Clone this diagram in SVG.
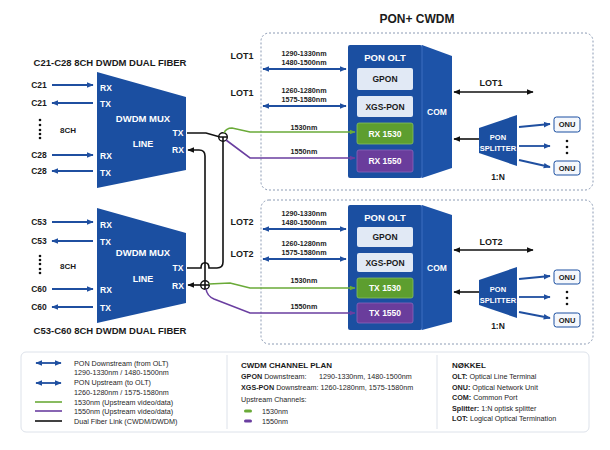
<svg xmlns="http://www.w3.org/2000/svg" width="610" height="450" viewBox="0 0 610 450">
<style>
text{font-family:"Liberation Sans",Arial,sans-serif;dominant-baseline:central}
.b{font-weight:bold}
.w{fill:#fff;font-weight:bold}
.k{fill:#1a1a1a}
.m{text-anchor:middle}
.blue{fill:#1b4fa1}
.lg{font-size:7.2px;fill:#1e1e1e}
.nm{font-size:7.2px;font-weight:bold;fill:#222;text-anchor:middle}
.lnk{fill:none;stroke:#111;stroke-width:1.6}
.ba{fill:none;stroke:#1f4fa0;stroke-width:1.8}
.gr{fill:none;stroke:#6aaa38;stroke-width:1.6}
.pu{fill:none;stroke:#6a3ea0;stroke-width:1.6}
.dash{fill:none;stroke:#8c9bb4;stroke-width:1;stroke-dasharray:2 2}
</style>
<defs>
<marker id="ab" viewBox="0 0 10 10" refX="9" refY="5" markerWidth="7" markerHeight="7" markerUnits="userSpaceOnUse" orient="auto-start-reverse"><path d="M0,1 L10,5 L0,9 z" fill="#1f4fa0"/></marker>
<marker id="ak" viewBox="0 0 10 10" refX="9" refY="5" markerWidth="7" markerHeight="7" markerUnits="userSpaceOnUse" orient="auto-start-reverse"><path d="M0,1 L10,5 L0,9 z" fill="#111"/></marker>
<marker id="ag" viewBox="0 0 10 10" refX="9" refY="5" markerWidth="6" markerHeight="6" markerUnits="userSpaceOnUse" orient="auto"><path d="M0,1 L10,5 L0,9 z" fill="#6aaa38"/></marker>
<marker id="ap" viewBox="0 0 10 10" refX="9" refY="5" markerWidth="6" markerHeight="6" markerUnits="userSpaceOnUse" orient="auto"><path d="M0,1 L10,5 L0,9 z" fill="#6a3ea0"/></marker>
</defs>
<rect width="610" height="450" fill="#fff"/>

<text x="417" y="19" class="b m k" font-size="12">PON+ CWDM</text>
<text x="110" y="62" class="b m k" font-size="9.5">C21-C28 8CH DWDM DUAL FIBER</text>
<text x="110" y="330" class="b m k" font-size="9.5">C53-C60 8CH DWDM DUAL FIBER</text>

<rect x="261" y="33" width="332" height="157" rx="8" class="dash"/>
<rect x="261" y="200" width="332" height="144" rx="8" class="dash"/>

<g id="mux1">
<polygon points="97,72 186,97 186,170 97,188" class="blue"/>
<text x="100" y="88" class="w" font-size="8.5">RX</text>
<text x="100" y="104" class="w" font-size="8.5">TX</text>
<text x="143" y="118" class="w m" font-size="9.5">DWDM MUX</text>
<text x="143" y="144" class="w m" font-size="9">LINE</text>
<text x="178" y="133" class="w m" font-size="8.5">TX</text>
<text x="178" y="150" class="w m" font-size="8.5">RX</text>
<text x="100" y="156" class="w" font-size="8.5">RX</text>
<text x="100" y="173" class="w" font-size="8.5">TX</text>
</g>
<g id="ch1">
<text x="39" y="85" class="b m k" font-size="8.5">C21</text>
<text x="39" y="103" class="b m k" font-size="8.5">C21</text>
<text x="39" y="155" class="b m k" font-size="8.5">C28</text>
<text x="39" y="171" class="b m k" font-size="8.5">C28</text>
<text x="60" y="130" class="b k" font-size="8">8CH</text>
<g fill="#111"><circle cx="40" cy="120" r="1.3"/><circle cx="40" cy="125" r="1.3"/><circle cx="40" cy="130" r="1.3"/><circle cx="40" cy="134" r="1.3"/><circle cx="40" cy="138" r="1.3"/></g>
</g>

<g id="mux2">
<polygon points="97,208 186,233 186,303 97,323" class="blue"/>
<text x="100" y="225" class="w" font-size="8.5">RX</text>
<text x="100" y="242" class="w" font-size="8.5">TX</text>
<text x="143" y="252" class="w m" font-size="9.5">DWDM MUX</text>
<text x="143" y="279" class="w m" font-size="9">LINE</text>
<text x="178" y="268" class="w m" font-size="8.5">TX</text>
<text x="178" y="286" class="w m" font-size="8.5">RX</text>
<text x="100" y="290" class="w" font-size="8.5">RX</text>
<text x="100" y="308" class="w" font-size="8.5">TX</text>
</g>
<g id="ch2">
<text x="39" y="222" class="b m k" font-size="8.5">C53</text>
<text x="39" y="241" class="b m k" font-size="8.5">C53</text>
<text x="39" y="289" class="b m k" font-size="8.5">C60</text>
<text x="39" y="307" class="b m k" font-size="8.5">C60</text>
<text x="60" y="266" class="b k" font-size="8">8CH</text>
<g fill="#111"><circle cx="40" cy="256" r="1.3"/><circle cx="40" cy="260" r="1.3"/><circle cx="40" cy="264" r="1.3"/><circle cx="40" cy="269" r="1.3"/><circle cx="40" cy="273" r="1.3"/></g>
</g>

<g id="olt1">
<rect x="348" y="45" width="74" height="133" rx="2" class="blue"/>
<polygon points="422,45 452,56 452,168 422,178" fill="#1d53a8"/>
<line x1="422" y1="45" x2="422" y2="178" stroke="#3c6fc0" stroke-width="1"/>
<text x="385" y="57" class="w m" font-size="9.5">PON OLT</text>
<rect x="357" y="68" width="56" height="22" rx="2" fill="#e1e9f5"/>
<text x="385" y="79" class="b m k" font-size="8.5">GPON</text>
<rect x="357" y="96" width="56" height="21" rx="2" fill="#e1e9f5"/>
<text x="385" y="106.5" class="b m k" font-size="8.5">XGS-PON</text>
<rect x="357" y="123" width="56" height="21" rx="2" fill="#5d9e2f" stroke="#86c060" stroke-width="0.8"/>
<text x="385" y="133.5" class="w m" font-size="8.5">RX 1530</text>
<rect x="357" y="150" width="56" height="22" rx="2" fill="#6a3d9c" stroke="#8c66bb" stroke-width="0.8"/>
<text x="385" y="161" class="w m" font-size="8.5">RX 1550</text>
<text x="437" y="112" class="w m" font-size="8.5">COM</text>
</g>

<g id="olt2">
<rect x="348" y="205" width="74" height="125" rx="2" class="blue"/>
<polygon points="422,205 452,215 452,322 422,330" fill="#1d53a8"/>
<line x1="422" y1="205" x2="422" y2="330" stroke="#3c6fc0" stroke-width="1"/>
<text x="385" y="217" class="w m" font-size="9.5">PON OLT</text>
<rect x="357" y="227" width="56" height="20" rx="2" fill="#e1e9f5"/>
<text x="385" y="237" class="b m k" font-size="8.5">GPON</text>
<rect x="357" y="253" width="56" height="19" rx="2" fill="#e1e9f5"/>
<text x="385" y="262.5" class="b m k" font-size="8.5">XGS-PON</text>
<rect x="357" y="278" width="56" height="20" rx="2" fill="#5d9e2f" stroke="#86c060" stroke-width="0.8"/>
<text x="385" y="288" class="w m" font-size="8.5">TX 1530</text>
<rect x="357" y="303" width="56" height="20" rx="2" fill="#6a3d9c" stroke="#8c66bb" stroke-width="0.8"/>
<text x="385" y="313" class="w m" font-size="8.5">TX 1550</text>
<text x="437" y="268" class="w m" font-size="8.5">COM</text>
</g>

<g id="spl1">
<polygon points="479,128 517,115 517,166 479,153" class="blue"/>
<text x="498" y="137" class="w m" font-size="7.5">PON</text>
<text x="498" y="148" class="w m" font-size="7.5">SPLITTER</text>
<text x="498" y="177" class="b m k" font-size="8.5">1:N</text>
</g>
<g id="onu1a"><rect x="554" y="117" width="26" height="15" rx="2.5" fill="#f4f7fc" stroke="#1b4fa1" stroke-width="1"/><text x="567" y="124.5" class="b m k" font-size="7.5">ONU</text></g>
<g id="onu1b"><rect x="554" y="161" width="26" height="14" rx="2.5" fill="#f4f7fc" stroke="#1b4fa1" stroke-width="1"/><text x="567" y="168" class="b m k" font-size="7.5">ONU</text></g>
<g fill="#111"><circle cx="567" cy="141" r="1.3"/><circle cx="567" cy="147" r="1.3"/><circle cx="567" cy="153" r="1.3"/></g>

<g id="spl2">
<polygon points="479,280 517,267 517,318 479,305" class="blue"/>
<text x="498" y="289" class="w m" font-size="7.5">PON</text>
<text x="498" y="300" class="w m" font-size="7.5">SPLITTER</text>
<text x="498" y="326" class="b m k" font-size="8.5">1:N</text>
</g>
<g id="onu2a"><rect x="554" y="270" width="26" height="14" rx="2.5" fill="#f4f7fc" stroke="#1b4fa1" stroke-width="1"/><text x="567" y="277" class="b m k" font-size="7.5">ONU</text></g>
<g id="onu2b"><rect x="554" y="313" width="26" height="14" rx="2.5" fill="#f4f7fc" stroke="#1b4fa1" stroke-width="1"/><text x="567" y="320" class="b m k" font-size="7.5">ONU</text></g>
<g fill="#111"><circle cx="567" cy="292" r="1.3"/><circle cx="567" cy="298" r="1.3"/><circle cx="567" cy="304" r="1.3"/></g>

<g class="b k" font-size="9">
<text x="242" y="56" class="m">LOT1</text>
<text x="242" y="93" class="m">LOT1</text>
<text x="242" y="222" class="m">LOT2</text>
<text x="242" y="254" class="m">LOT2</text>
<text x="491" y="83" class="m">LOT1</text>
<text x="491" y="242" class="m">LOT2</text>
</g>
<text x="304" y="53" class="nm">1290-1330nm</text>
<text x="304" y="62" class="nm">1480-1500nm</text>
<text x="304" y="90" class="nm">1260-1280nm</text>
<text x="304" y="99" class="nm">1575-1580nm</text>
<text x="304" y="127" class="nm">1530nm</text>
<text x="304" y="151" class="nm">1550nm</text>
<text x="304" y="213" class="nm">1290-1330nm</text>
<text x="304" y="222" class="nm">1480-1500nm</text>
<text x="304" y="243" class="nm">1260-1280nm</text>
<text x="304" y="252" class="nm">1575-1580nm</text>
<text x="304" y="280" class="nm">1530nm</text>
<text x="304" y="306" class="nm">1550nm</text>

<g id="connectors">
<path d="M52,85 H93" class="ba" marker-end="url(#ab)"/>
<path d="M93,103 H52" class="ba" marker-end="url(#ab)"/>
<path d="M52,155 H93" class="ba" marker-end="url(#ab)"/>
<path d="M93,171 H52" class="ba" marker-end="url(#ab)"/>
<path d="M52,222 H93" class="ba" marker-end="url(#ab)"/>
<path d="M93,241 H52" class="ba" marker-end="url(#ab)"/>
<path d="M52,289 H93" class="ba" marker-end="url(#ab)"/>
<path d="M93,307 H52" class="ba" marker-end="url(#ab)"/>
<path d="M187,133 H206 L220,137 H227" class="lnk"/>
<path d="M223,137 V262 Q223,268 217,268 H209 C209,261 201,261 201,268 H187" class="lnk"/>
<path d="M205,289 V156 Q205,150 199,150 H188" class="lnk" marker-end="url(#ak)"/>
<path d="M209,285 H188" class="lnk" marker-end="url(#ak)"/>
<circle cx="223" cy="137" r="4.3" fill="none" stroke="#111" stroke-width="1.4"/>
<circle cx="205" cy="285" r="4.3" fill="none" stroke="#111" stroke-width="1.4"/>
<path d="M224,133 Q226,128 232,128 L250,132 H355" class="gr" marker-end="url(#ag)"/>
<path d="M226,140 L250,158 H355" class="pu" marker-end="url(#ap)"/>
<path d="M209,284 L230,283 L250,288 H355" class="gr" marker-end="url(#ag)"/>
<path d="M206,289 Q207,296 214,299 L250,313 H355" class="pu" marker-end="url(#ap)"/>
<path d="M263,69 H346" class="ba" marker-start="url(#ab)" marker-end="url(#ab)"/>
<path d="M263,106 H346" class="ba" marker-start="url(#ab)" marker-end="url(#ab)"/>
<path d="M263,229 H346" class="ba" marker-start="url(#ab)" marker-end="url(#ab)"/>
<path d="M263,259 H346" class="ba" marker-start="url(#ab)" marker-end="url(#ab)"/>
<path d="M454,92 H533" class="lnk" marker-start="url(#ak)" marker-end="url(#ak)"/>
<path d="M454,250 H533" class="lnk" marker-start="url(#ak)" marker-end="url(#ak)"/>
<path d="M479,139 H454" class="lnk" marker-end="url(#ak)"/>
<path d="M479,292 H454" class="lnk" marker-end="url(#ak)"/>
<path d="M519,127 L550,124" class="ba" marker-end="url(#ab)"/>
<path d="M519,146 H550" class="ba" marker-end="url(#ab)"/>
<path d="M519,160 L550,167" class="ba" marker-end="url(#ab)"/>
<path d="M519,279 L550,276" class="ba" marker-end="url(#ab)"/>
<path d="M519,297 H550" class="ba" marker-end="url(#ab)"/>
<path d="M519,312 L550,318" class="ba" marker-end="url(#ab)"/>
</g>

<g id="legend">
<rect x="21" y="352" width="568" height="80" rx="5" fill="#fff" stroke="#dde2ea" stroke-width="1"/>
<line x1="227" y1="355" x2="227" y2="429" stroke="#dde2ea"/>
<line x1="437" y1="355" x2="437" y2="429" stroke="#dde2ea"/>
<path d="M36,363 H61" class="ba" marker-start="url(#ab)" marker-end="url(#ab)"/>
<text x="74" y="363" class="lg">PON Downstream (from OLT)</text>
<text x="74" y="372" class="lg">1290-1330nm / 1480-1500nm</text>
<path d="M36,383 H61" class="ba" marker-start="url(#ab)" marker-end="url(#ab)"/>
<text x="74" y="382" class="lg">PON Upstream (to OLT)</text>
<text x="74" y="392" class="lg">1260-1280nm / 1575-1580nm</text>
<line x1="35" y1="402" x2="62" y2="402" class="gr"/>
<text x="74" y="402" class="lg">1530nm (Upstream video/data)</text>
<line x1="35" y1="411" x2="62" y2="411" class="pu"/>
<text x="74" y="411" class="lg">1550nm (Upstream video/data)</text>
<line x1="35" y1="421" x2="62" y2="421" class="lnk"/>
<text x="74" y="421" class="lg">Dual Fiber Link (CWDM/DWDM)</text>

<text x="241" y="365" class="b k" font-size="8">CWDM CHANNEL PLAN</text>
<text x="241" y="376" class="lg"><tspan font-weight="bold">GPON</tspan> Downstream:</text>
<text x="319" y="376" class="lg">1290-1330nm, 1480-1500nm</text>
<text x="241" y="387" class="lg"><tspan font-weight="bold">XGS-PON</tspan> Downstream: 1260-1280nm, 1575-1580nm</text>
<text x="241" y="399" class="lg">Upstream Channels:</text>
<rect x="244" y="409.5" width="8" height="3" rx="1.5" fill="#6aaa38"/>
<text x="262" y="411" class="lg">1530nm</text>
<rect x="244" y="419.5" width="8" height="3" rx="1.5" fill="#6a3ea0"/>
<text x="262" y="421" class="lg">1550nm</text>

<text x="452" y="365" class="b k" font-size="8">NØKKEL</text>
<text x="452" y="376" class="lg"><tspan font-weight="bold">OLT:</tspan> Optical Line Terminal</text>
<text x="452" y="387" class="lg"><tspan font-weight="bold">ONU:</tspan> Optical Network Unit</text>
<text x="452" y="397" class="lg"><tspan font-weight="bold">COM:</tspan> Common Port</text>
<text x="452" y="408" class="lg"><tspan font-weight="bold">Splitter:</tspan> 1:N optisk splitter</text>
<text x="452" y="418" class="lg"><tspan font-weight="bold">LOT:</tspan> Logical Optical Termination</text>
</g>
</svg>
